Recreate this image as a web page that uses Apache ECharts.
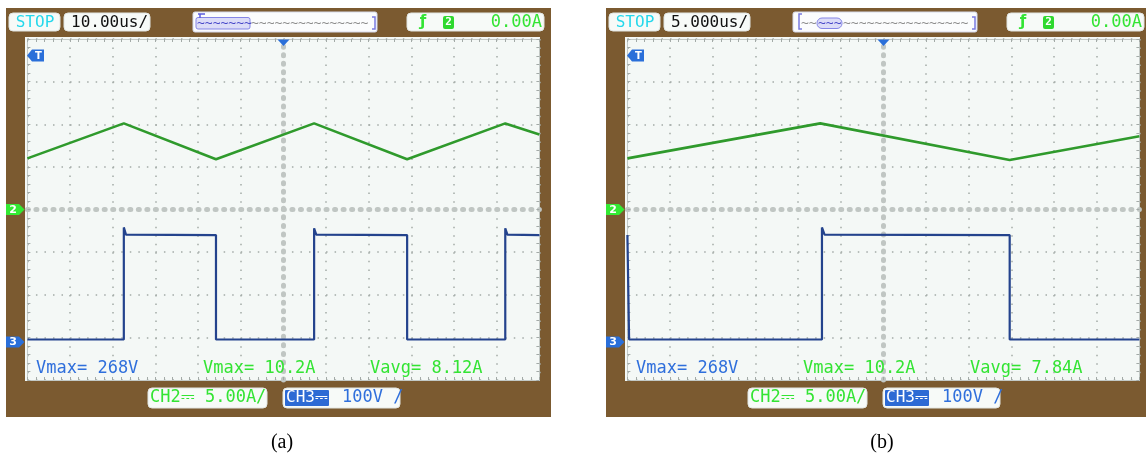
<!DOCTYPE html>
<html>
<head>
<meta charset="utf-8">
<script src="https://cdn.jsdelivr.net/npm/echarts@6/dist/echarts.min.js"></script>
<style>
  html, body { margin: 0; padding: 0; background: #ffffff; }
  #scope { width: 1146px; height: 459px; }
</style>
</head>
<body>
<div id="scope"></div>
<script>
// ---- Captured waveforms -------------------------------------------------
// Panel captions and time bases (µs per division, 12 divisions across)
const panelCaptions = ['(a)', '(b)'];
const timePerDiv = [10, 5];
const timebaseLabels = ['10.00us/', '5.000us/'];

// Channel 2: inductor current (A), triangle vertices [µs]
const tA_current = [0, 22.6, 44.2, 67.2, 89.0, 112.0, 120];
const iA_current = [6.0, 10.1, 5.9, 10.1, 5.9, 10.1, 8.8];
const tB_current = [0, 22.6, 44.8, 60];
const iB_current = [6.0, 10.1, 5.8, 8.6];

// Channel 3: switch voltage (V), square wave corners [µs]
const tA_voltage = [0, 22.6, 22.6, 23.1, 44.2, 44.2, 67.2, 67.2, 67.7, 89.0, 89.0, 112.0, 112.0, 112.5, 120];
const vA_voltage = [5, 5, 268, 251, 250, 5, 5, 266, 251, 250, 5, 5, 266, 251, 250];
const tB_voltage = [0, 0.2, 0.2, 22.8, 22.8, 23.1, 44.8, 44.8, 60];
const vB_voltage = [250, 248, 5, 5, 268, 251, 250, 5, 5];

// Measurement readouts shown on screen
const measurementsA = ['Vmax= 268V', 'Vmax= 10.2A', 'Vavg= 8.12A'];
const measurementsB = ['Vmax= 268V', 'Vmax= 10.2A', 'Vavg= 7.84A'];

// Channel settings
const ch2Setting = 'CH2\u2393 5.00A/';
const ch3Name = 'CH3\u2393';
const ch3Scale = '100V /';
const triggerLevel = '0.00A';
const runState = 'STOP';

// Vertical scales (units per division, 8 divisions tall)
const ampPerDiv = 5;
const voltPerDiv = 100;

// ---- Colours --------------------------------------------------------------
const BROWN = '#7b5a30';
const SCREEN = '#f4f8f6';
const GRID_DOT = '#a3aaa7';
const CENTRE_TICK = '#c0c6c3';
const EDGE = '#c3c9c6';
const TRACE_GREEN = '#2f9a2c';
const TRACE_BLUE = '#24438d';
const TEXT_GREEN = '#33e433';
const TEXT_BLUE = '#2f6fdc';
const CYAN = '#25d8ec';
const MARK_BLUE = '#2a6fd9';

const MONO = '"DejaVu Sans Mono", monospace';

function zip(xs, ys) { return xs.map((x, i) => [x, ys[i]]); }

// ---- Axes -----------------------------------------------------------------
const dotted = [1.5, 7.033];
const bars = [1, 7.533];
const xAxes = [];
const yAxes = [];
const series = [];

[0, 1].forEach(gi => {
  const span = timePerDiv[gi] * 12;
  const xBase = xAxes.length;
  const yBase = yAxes.length;
  // time axis (bottom edge with inner ticks)
  xAxes.push({
    gridIndex: gi, type: 'value', min: 0, max: span, interval: timePerDiv[gi],
    position: 'bottom', z: 2,
    axisLine: { onZero: false, lineStyle: { color: EDGE, width: 1 } },
    axisTick: { show: true, inside: true, length: 3, lineStyle: { color: GRID_DOT } },
    minorTick: { show: true, splitNumber: 5, length: 3, lineStyle: { color: GRID_DOT } },
    axisLabel: { show: false }, splitLine: { show: false }
  });
  // division axis: dotted graticule + centre line with tick bars
  xAxes.push({
    gridIndex: gi, type: 'value', min: -6, max: 6, interval: 1, position: 'top', z: 2,
    axisLine: { onZero: true, onZeroAxisIndex: yBase,
      lineStyle: { color: CENTRE_TICK, width: 5, type: bars } },
    axisTick: { show: false }, axisLabel: { show: false },
    splitLine: { show: true, lineStyle: { color: GRID_DOT, width: 1.5, type: dotted } }
  });
  // top edge
  xAxes.push({
    gridIndex: gi, type: 'value', min: 0, max: 12, interval: 1, position: 'top', z: 2,
    axisLine: { onZero: false, lineStyle: { color: EDGE, width: 1 } },
    axisTick: { show: true, inside: true, length: 3, lineStyle: { color: GRID_DOT } },
    minorTick: { show: true, splitNumber: 5, length: 3, lineStyle: { color: GRID_DOT } },
    axisLabel: { show: false }, splitLine: { show: false }
  });

  // division axis (vertical)
  yAxes.push({
    gridIndex: gi, type: 'value', min: -4, max: 4, interval: 1, position: 'left', z: 2,
    axisLine: { onZero: true, onZeroAxisIndex: xBase + 1,
      lineStyle: { color: CENTRE_TICK, width: 5, type: bars } },
    axisTick: { show: false }, axisLabel: { show: false },
    splitLine: { show: true, lineStyle: { color: GRID_DOT, width: 1.5, type: dotted } }
  });
  // channel 2 current axis, zero on the centre line (left edge ticks)
  yAxes.push({
    gridIndex: gi, type: 'value', min: -4 * ampPerDiv, max: 4 * ampPerDiv, interval: ampPerDiv,
    position: 'left', z: 2,
    axisLine: { onZero: false, lineStyle: { color: EDGE, width: 1 } },
    axisTick: { show: true, inside: true, length: 3, lineStyle: { color: GRID_DOT } },
    minorTick: { show: true, splitNumber: 5, length: 3, lineStyle: { color: GRID_DOT } },
    axisLabel: { show: false }, splitLine: { show: false }
  });
  // channel 3 voltage axis, zero 3.1 div below centre
  yAxes.push({
    gridIndex: gi, type: 'value', min: -0.9 * voltPerDiv, max: 7.1 * voltPerDiv,
    show: false, axisLine: { onZero: false }
  });
  // right edge
  yAxes.push({
    gridIndex: gi, type: 'value', min: 0, max: 8, interval: 1, position: 'right', z: 2,
    axisLine: { onZero: false, lineStyle: { color: EDGE, width: 1 } },
    axisTick: { show: true, inside: true, length: 3, lineStyle: { color: GRID_DOT } },
    minorTick: { show: true, splitNumber: 5, length: 3, lineStyle: { color: GRID_DOT } },
    axisLabel: { show: false }, splitLine: { show: false }
  });

  const cur = gi === 0 ? zip(tA_current, iA_current) : zip(tB_current, iB_current);
  const vol = gi === 0 ? zip(tA_voltage, vA_voltage) : zip(tB_voltage, vB_voltage);
  series.push({
    type: 'line', xAxisIndex: xBase, yAxisIndex: yBase + 1, data: cur,
    showSymbol: false, silent: true, z: 4, animation: false,
    lineStyle: { color: TRACE_GREEN, width: 2.6 }
  });
  series.push({
    type: 'line', xAxisIndex: xBase, yAxisIndex: yBase + 2, data: vol,
    showSymbol: false, silent: true, z: 4, animation: false,
    lineStyle: { color: TRACE_BLUE, width: 2.2 }
  });
});

// ---- Instrument furniture (frames, readout boxes, markers) ----------------
function rect(x, y, w, h, r, fill, z, stroke) {
  return { type: 'rect', silent: true, z: z,
    shape: { x: x, y: y, width: w, height: h, r: r },
    style: { fill: fill, stroke: stroke || null, lineWidth: stroke ? 1 : 0 } };
}
function text(x, y, str, font, fill, align, z) {
  return { type: 'text', silent: true, z: z || 8, x: x, y: y,
    style: { text: str, font: font, fill: fill,
      align: align || 'left', verticalAlign: 'middle',
      textAlign: align || 'left', textVerticalAlign: 'middle' } };
}
function poly(points, fill, z) {
  return { type: 'polygon', silent: true, z: z || 8, shape: { points: points }, style: { fill: fill } };
}
function line(points, stroke, w, z) {
  return { type: 'polyline', silent: true, z: z || 8, shape: { points: points },
    style: { stroke: stroke, lineWidth: w, fill: null } };
}

const graphics = [];
[0, 1].forEach(p => {
  const dx = p * 600;
  const meas = p === 0 ? measurementsA : measurementsB;
  // bezel and screen
  graphics.push(rect(dx + 6, 8, 545, 409, 0, BROWN, 0));
  graphics.push(rect(dx + 25, 37, 515, 344, 0, SCREEN, 1));

  // top readouts
  graphics.push(rect(dx + 9, 13, 51, 18, 4, '#f7faf8', 5, '#e2e6e3'));
  graphics.push(text(dx + 35, 22.5, runState, '16px ' + MONO, CYAN, 'center'));
  graphics.push(rect(dx + 64, 13, 86, 18, 4, '#f7faf8', 5, '#e2e6e3'));
  graphics.push(text(dx + 71, 22.5, timebaseLabels[p], '16px ' + MONO, '#111111'));

  // memory overview strip
  graphics.push(rect(dx + 193, 12, 184, 20, 2, '#fbfcfd', 5, '#d6d9ea'));
  if (p === 0) {
    graphics.push(rect(dx + 196, 17.5, 54, 11.5, 2, '#dcdcf7', 6, '#8585e6'));
    graphics.push(text(dx + 197, 23.5, '~~~~~~~', '13px ' + MONO, '#4747c9'));
    graphics.push(text(dx + 251, 23.5, '~~~~~~~~~~~~~~~', '13px ' + MONO, '#8d8d8d'));
    graphics.push(line([[dx + 198, 14], [dx + 205, 14]], '#5b5bdc', 1.5));
    graphics.push(line([[dx + 200, 14], [dx + 200, 18]], '#5b5bdc', 1.5));
  } else {
    graphics.push(line([[dx + 202, 14], [dx + 199, 14], [dx + 199, 29], [dx + 202, 29]], '#7a7ae0', 1.5));
    graphics.push(text(dx + 201, 23.5, '~~', '13px ' + MONO, '#8d8d8d'));
    graphics.push(rect(dx + 217, 18, 25, 10.5, 5, '#dcdcf7', 6, '#8585e6'));
    graphics.push(text(dx + 218, 23.5, '~~~', '13px ' + MONO, '#4747c9'));
    graphics.push(text(dx + 243, 23.5, '~~~~~~~~~~~~~~~~', '13px ' + MONO, '#8d8d8d'));
  }
  graphics.push(line([[dx + 372, 17], [dx + 375, 17], [dx + 375, 29], [dx + 372, 29]], '#7a7ae0', 1.5));

  // trigger readout
  graphics.push(rect(dx + 407, 13, 137, 18, 4, '#f7faf8', 5, '#e2e6e3'));
  graphics.push(text(dx + 423, 22.5, '\u0192', 'bold 15px "DejaVu Sans"', TEXT_GREEN, 'center'));
  graphics.push(rect(dx + 443, 16, 11, 13, 2, '#2fd92f', 6));
  graphics.push(text(dx + 448.5, 22.5, '2', 'bold 11px ' + MONO, '#ffffff', 'center'));
  graphics.push(text(dx + 542, 22.5, triggerLevel, '17px ' + MONO, TEXT_GREEN, 'right'));

  // bottom channel readouts
  graphics.push(rect(dx + 148, 388, 119, 20, 4, '#f7faf8', 5, '#e2e6e3'));
  graphics.push(text(dx + 150, 398, ch2Setting, '17px ' + MONO, TEXT_GREEN));
  graphics.push(rect(dx + 283, 388, 117, 20, 4, '#f7faf8', 5, '#e2e6e3'));
  graphics.push(rect(dx + 285, 390, 44, 16, 1, '#2d6ad4', 6));
  graphics.push(text(dx + 286, 398, ch3Name, '16px ' + MONO, '#ffffff'));
  graphics.push(text(dx + 342, 398, ch3Scale, '17px ' + MONO, TEXT_BLUE));

  // on-screen measurements
  graphics.push(text(dx + 36, 368.5, meas[0], '17px ' + MONO, TEXT_BLUE));
  graphics.push(text(dx + 203, 368.5, meas[1], '17px ' + MONO, TEXT_GREEN));
  graphics.push(text(dx + 370, 368.5, meas[2], '17px ' + MONO, TEXT_GREEN));

  // trigger time marker, trigger flag, channel ground markers
  graphics.push(poly([[dx + 277.5, 39.5], [dx + 289.5, 39.5], [dx + 283.5, 46]], MARK_BLUE));
  graphics.push(poly([[dx + 27, 55.5], [dx + 32, 49.5], [dx + 44, 49.5], [dx + 44, 61.5], [dx + 32, 61.5]], MARK_BLUE));
  graphics.push(text(dx + 38.5, 56, 'T', 'bold 10px "DejaVu Sans"', '#ffffff', 'center', 9));
  graphics.push(poly([[dx + 6, 204], [dx + 19, 204], [dx + 24.5, 209.5], [dx + 19, 215], [dx + 6, 215]], '#33ea33'));
  graphics.push(text(dx + 13, 210, '2', 'bold 11px "DejaVu Sans"', '#ffffff', 'center', 9));
  graphics.push(poly([[dx + 6, 336.5], [dx + 19, 336.5], [dx + 24.5, 342], [dx + 19, 347.5], [dx + 6, 347.5]], MARK_BLUE));
  graphics.push(text(dx + 13, 342.5, '3', 'bold 11px "DejaVu Sans"', '#ffffff', 'center', 9));

  // caption
  graphics.push(text(dx + 282, 443, panelCaptions[p], '20px "Liberation Serif"', '#000000', 'center'));
});

const chart = echarts.init(document.getElementById('scope'), null, { renderer: 'canvas' });
chart.setOption({
  animation: false,
  backgroundColor: '#ffffff',
  grid: [
    { left: 27.4, top: 39, width: 512, height: 341, containLabel: false },
    { left: 627.4, top: 39, width: 512, height: 341, containLabel: false }
  ],
  xAxis: xAxes,
  yAxis: yAxes,
  series: series,
  graphic: { elements: graphics }
});
</script>
</body>
</html>
